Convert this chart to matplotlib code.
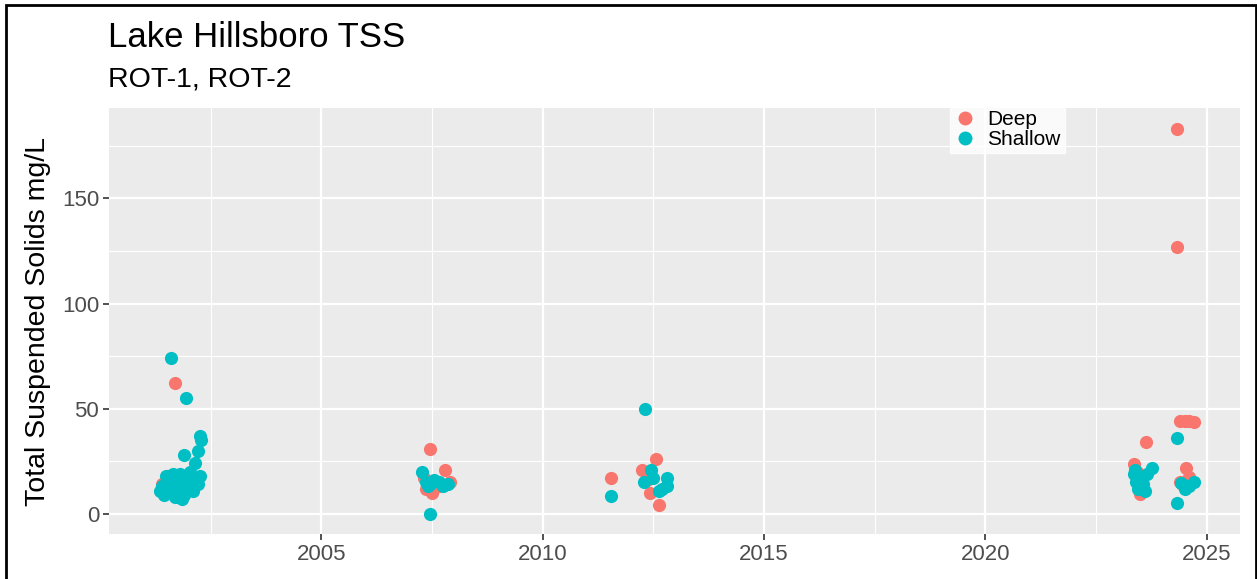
import matplotlib
matplotlib.use("Agg")
import matplotlib.pyplot as plt
from matplotlib.patches import Rectangle
from matplotlib.lines import Line2D

plt.rcParams['font.family'] = ['Liberation Sans', 'DejaVu Sans']

# sample dates (decimal year) and TSS (mg/L) by depth
deep_year = [2001.40, 2001.45, 2001.55, 2001.70, 2001.75, 2001.85, 2002.00, 2002.10,
             2007.32, 2007.35, 2007.45, 2007.50, 2007.65, 2007.80, 2007.90,
             2011.55, 2012.25, 2012.35, 2012.42, 2012.55, 2012.62,
             2023.36, 2023.42, 2023.50, 2023.55, 2023.62,
             2024.32, 2024.32, 2024.39, 2024.40, 2024.45, 2024.50, 2024.53, 2024.60, 2024.60, 2024.70]
deep_tss = [14, 10, 18, 62, 16, 12, 18, 14,
            17, 12, 31, 10, 13, 21, 15,
            17, 21, 16, 10, 26, 4,
            23.5, 20, 9.5, 12, 34,
            183, 127, 15, 44, 14, 44, 22, 44, 17.5, 43.5]

shallow_year = [2001.35, 2001.40, 2001.45, 2001.48, 2001.50, 2001.55, 2001.60, 2001.62, 2001.65,
                2001.70, 2001.72, 2001.80, 2001.82, 2001.85, 2001.90, 2001.95, 2002.00, 2002.02,
                2002.05, 2002.10, 2002.12, 2002.20, 2002.25,
                2001.60, 2001.95, 2001.90, 2002.15, 2002.20, 2002.25, 2002.27,
                2007.28, 2007.35, 2007.40, 2007.45, 2007.55, 2007.65, 2007.75, 2007.85, 2007.46,
                2011.55, 2012.30, 2012.45, 2012.29, 2012.50, 2012.62, 2012.70, 2012.80, 2012.81,
                2023.35, 2023.38, 2023.40, 2023.45, 2023.50, 2023.55, 2023.60, 2023.65, 2023.77,
                2024.32, 2024.41, 2024.50, 2024.60, 2024.70, 2024.32]
shallow_tss = [11, 13, 9, 18, 15, 12, 17, 10, 19,
               8, 14, 19, 11, 7, 9, 16, 13, 20,
               12, 11, 15, 14, 18,
               74, 55, 28, 24, 30, 37, 35,
               20, 15, 13, 14, 16, 15, 13, 14, 0,
               8.5, 50, 21, 15, 17, 11, 12, 13, 17,
               19, 21, 15, 12, 17, 14, 11, 19, 22,
               36, 14.5, 12, 13, 15, 5]

deep_color = '#F8766D'
shallow_color = '#00BFC4'

fig = plt.figure(figsize=(12.57, 5.79), dpi=100)
ax = fig.add_axes([109 / 1257, 1 - 534 / 579, (1240 - 109) / 1257, (534 - 108) / 579])

# ggplot-like panel
ax.set_facecolor('#EBEBEB')
for s in ax.spines.values():
    s.set_visible(False)
ax.set_axisbelow(True)

ax.scatter(deep_year, deep_tss, s=90, color=deep_color, linewidths=0, zorder=3)
ax.scatter(shallow_year, shallow_tss, s=90, color=shallow_color, linewidths=0, zorder=3)

ax.set_xlim(2000.2, 2025.75)
ax.set_ylim(-9.6, 193)
ax.set_xticks([2005, 2010, 2015, 2020, 2025])
ax.set_yticks([0, 50, 100, 150])
ax.set_xticks([2002.5, 2007.5, 2012.5, 2017.5, 2022.5], minor=True)
ax.set_yticks([25, 75, 125, 175], minor=True)
ax.grid(which='major', color='white', linewidth=1.6)
ax.grid(which='minor', color='white', linewidth=0.8)
ax.tick_params(which='major', length=4, width=1.2, color='#333333',
               labelsize=16, labelcolor='#4D4D4D', pad=3)
ax.tick_params(which='minor', length=0)

ax.set_ylabel('Total Suspended Solids mg/L', fontsize=20.5, labelpad=8)

fig.text(108 / 1257, 1 - 47 / 579, 'Lake Hillsboro TSS', fontsize=25, ha='left', va='baseline')
fig.text(108 / 1257, 1 - 87 / 579, 'ROT-1, ROT-2', fontsize=20.5, ha='left', va='baseline')

handles = [Line2D([], [], marker='o', linestyle='', markersize=9, color=deep_color),
           Line2D([], [], marker='o', linestyle='', markersize=9, color=shallow_color)]
leg = fig.legend(handles, ['Deep', 'Shallow'], loc='upper left',
                 bbox_to_anchor=(950 / 1257, 1 - 106 / 579), fontsize=15,
                 frameon=True, fancybox=False, borderpad=0.2, labelspacing=0.05,
                 handlelength=1.0, handletextpad=0.6, borderaxespad=0)
leg.get_frame().set_facecolor('white')
leg.get_frame().set_edgecolor('white')

# outer frame
fig.patches.append(Rectangle((6 / 1257, -0.05), (1256 - 6) / 1257, 1.05 - 5 / 579,
                             transform=fig.transFigure, fill=False,
                             edgecolor='black', linewidth=2))

fig.savefig('out.png', dpi=100)
